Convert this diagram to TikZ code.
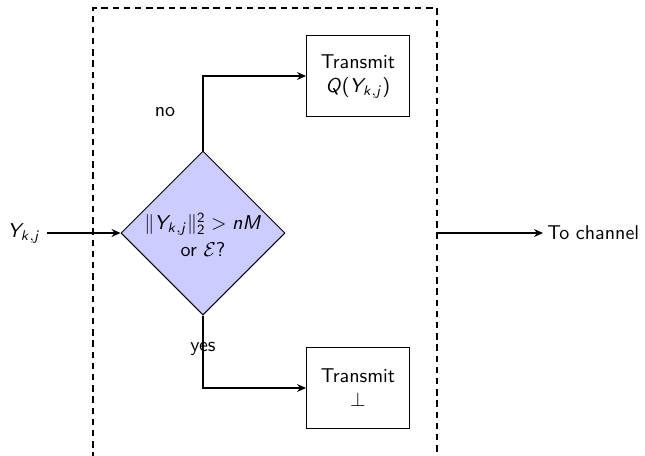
\documentclass[tikz,border=0pt]{standalone}
\DeclareMathAlphabet{\mathsi}{OT1}{cmss}{m}{sl}
\SetSymbolFont{operators}{normal}{OT1}{cmss}{m}{n}
\newcommand{\sv}[1]{\mathsi{#1}}
\usetikzlibrary{shapes.geometric,arrows.meta}
\begin{document}
\begin{tikzpicture}[x=0.5pt,y=-0.5pt,font=\sffamily,
  box/.style={draw,line width=0.5pt,minimum width=51.5pt,minimum height=40.5pt,align=center,inner sep=0pt},
  dia/.style={draw,line width=0.5pt,diamond,aspect=1,fill=blue!20,minimum width=82pt,minimum height=82pt,inner sep=0pt},
  arr/.style={line width=0.8pt,-{Stealth[length=4.5pt,width=4pt,inset=1.5pt]}},
  frame/.style={line width=0.8pt,dash pattern=on 3.2pt off 2.4pt}]
\useasboundingbox (0,0) rectangle (645,456);
\clip (0,0) rectangle (645,456);
\draw[frame] (93,470) -- (93,8) -- (437,8) -- (437,470);
\node[dia] (d) at (203,233) {};
\node[align=center,inner sep=0pt] (dt) at (203,235) {$\|\sv{Y}_{\sv{k},\sv{j}}\|_2^2 > \sv{nM}$\\[1.5pt]or $\mathcal{E}$?};
\node[box] (t1) at (358,76) {Transmit\\$\sv{Q}(\sv{Y}_{\sv{k},\sv{j}})$};
\node[box] (t2) at (358,388) {Transmit\\$\perp$};
\node (in) at (24,233) {$\sv{Y}_{\sv{k},\sv{j}}$};
\draw[arr] (in) -- (d.west);
\draw[arr] (d.north) |- (t1.west);
\draw[arr] (d.south) |- (t2.west);
\coordinate (o) at (437,233);
\node[anchor=west,inner sep=2pt] (ch) at (543,233) {To channel};
\draw[arr] (o) -- (ch.west);
\node (no) at (165,112) {no};
\node (yes) at (203,349) {yes};
\end{tikzpicture}
\end{document}
